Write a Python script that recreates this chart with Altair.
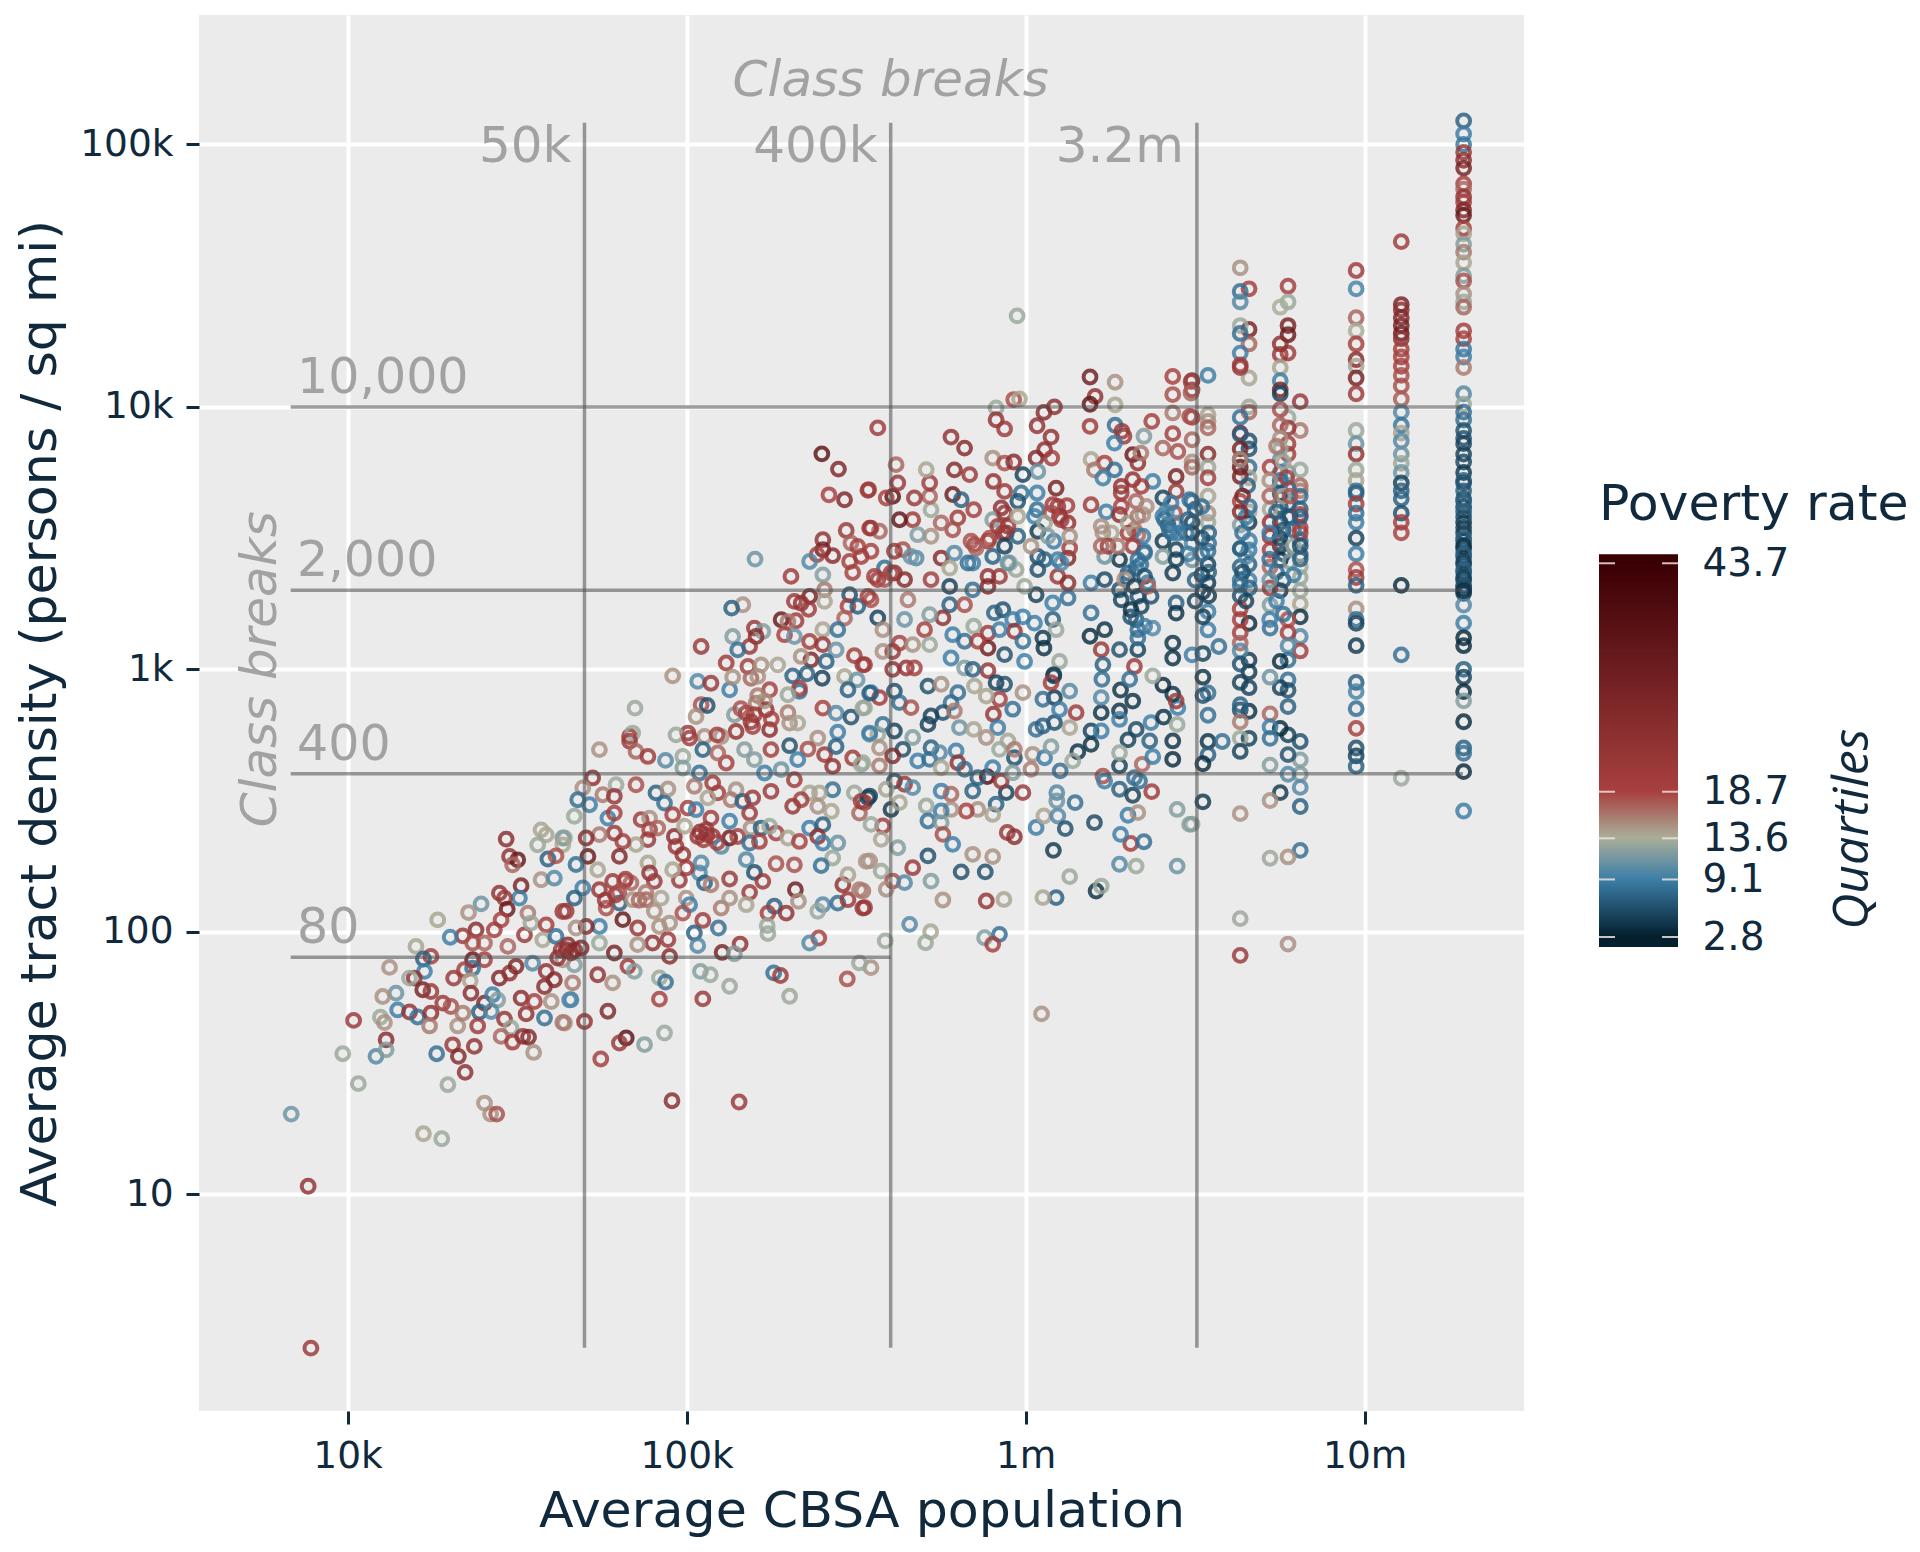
import altair as alt
import pandas as pd

# Each entry: (log10 average CBSA population, log10 average tract density, poverty rate)
col_7292 = [(5.09,7),(5.04,9),(5.0,8.5),(4.97,22),(4.94,25),(4.91,30),(4.85,19),(4.83,17),(4.80,23),(4.78,20),(4.75,28),(4.73,33),(4.68,19),(4.66,14),(4.62,12),(4.59,16),(4.55,14),(4.50,12),(4.48,18),(4.43,15),(4.40,13),(4.38,17),(4.29,20),(4.26,19),(4.22,8.5),(4.19,9),(4.15,16),(4.05,10),(4.01,13),(3.98,8),(3.95,8),(3.91,6),(3.88,6),(3.86,5),(3.82,5),(3.79,5.5),(3.75,4.5),(3.72,7),(3.68,7),(3.71,6),(3.65,6),(3.62,5),(3.60,7),(3.56,4),(3.52,5),(3.49,6),(3.46,5),(3.43,6),(3.40,5),(3.37,6),(3.34,5),(3.31,5),(3.29,4.5),(3.245,10),(3.176,9),(3.12,3.5),(3.09,3.5),(3.0,7),(2.97,5),(2.915,3.5),(2.88,12),(2.80,3.5),(2.70,7),(2.68,8),(2.61,3.5),(2.46,9)]
col_7108 = [(4.63,21),(4.39,30),(4.37,25),(4.34,28),(4.31,30),(4.28,32),(4.26,25),(4.22,20),(4.19,19),(4.155,19),(4.12,18),(4.08,18),(4.03,17.5),(3.98,10),(3.93,8.5),(3.90,14),(3.87,10),(3.82,11),(3.785,13),(3.75,11),(3.71,5),(3.68,7),(3.65,7),(3.595,6),(3.56,20),(3.52,19),(3.32,3.5),(3.055,8),(2.585,13)]
col_6975 = [(4.52,21),(4.45,9.5),(4.34,17),(4.29,13.5),(4.24,19),(4.18,26),(4.155,14),(4.11,30),(4.05,21),(3.91,13),(3.86,11),(3.82,24),(3.76,13),(3.72,14),(3.68,8),(3.67,7),(3.63,20),(3.595,8),(3.56,9),(3.50,5),(3.44,9),(3.38,18),(3.35,21),(3.32,7),(3.23,15),(3.19,8),(3.175,5),(3.09,4.5),(2.95,7),(2.915,9.5),(2.85,8),(2.775,19),(2.70,6),(2.67,5),(2.63,7)]
col_681 = [(4.02,22),(3.91,16),(3.76,13),(3.70,17),(3.68,16),(3.66,8),(3.61,7),(3.54,19),(3.49,8),(3.436,6),(3.39,13),(3.35,13),(3.25,14),(3.20,4),(3.125,10),(3.07,20),(2.725,6),(2.655,12),(2.60,12),(2.55,10),(2.477,7),(2.31,8)]
col_6774 = [(4.46,20),(4.40,13),(4.31,30),(4.275,33),(4.205,21),(3.96,13),(3.92,22),(3.86,21),(3.82,20),(3.75,12),(3.69,8),(3.63,7),(3.58,9),(3.19,18),(3.14,20),(3.09,10),(3.035,8),(2.96,8),(2.92,6),(2.858,7),(2.75,5),(2.675,6),(2.60,10),(1.953,15),(2.285,15)]
col_675 = [(4.38,13.5),(4.24,25),(4.20,22),(4.15,14),(4.10,9),(4.065,30),(4.05,5),(3.99,18),(3.93,17),(3.88,15),(3.84,13),(3.80,11),(3.75,9),(3.72,8),(3.67,6),(3.62,6),(3.56,6),(3.47,5),(3.417,3.5),(3.30,4.5),(3.03,3.5),(2.93,5),(2.775,3.5),(2.53,4.5)]
col_672 = [(3.77,19),(3.61,14),(3.56,24),(3.506,23),(3.455,20),(3.39,17),(3.31,21),(3.245,12),(3.157,8),(2.97,11),(2.83,17),(2.78,9),(2.737,8),(2.635,12),(2.50,15),(2.28,13)]
col_6659 = [(4.45,20),(4.295,30),(4.24,17),(4.11,14),(4.0,13),(3.98,17),(3.87,6),(3.84,6),(3.77,8),(3.73,14),(3.60,13),(3.56,4.5),(3.455,9),(3.40,7),(3.34,9),(3.175,3.5),(3.035,4.5),(2.99,4.5),(2.93,5),(2.84,4),(2.737,5)]
col_6633 = [(4.53,15),(4.44,8),(4.40,10),(4.31,13),(4.28,8),(4.205,9),(4.16,20),(4.15,22),(3.96,8),(3.90,28),(3.895,7),(3.84,30),(3.80,32),(3.77,33),(3.735,30),(3.80,15),(3.64,19),(3.55,12),(3.46,8),(3.39,7),(3.34,8),(3.28,6),(3.23,20),(3.19,20),(3.14,20),(3.10,17),(3.07,10),(3.02,6),(2.95,5),(2.845,6),(2.865,7),(2.80,16),(2.737,13),(2.687,5),(2.45,15),(2.05,13),(1.91,22)]
col_654 = [(4.12,9),(3.97,14),(3.945,15),(3.92,17),(3.82,26),(3.77,13),(3.73,20),(3.66,14),(3.595,15),(3.56,13),(3.45,8),(3.40,5),(3.33,4.5),(3.22,9),(3.15,9),(2.91,8),(2.825,8),(2.725,4),(2.675,7)]
col_652 = [(3.295,4.5),(3.20,5),(3.06,5),(2.97,4),(2.90,6),(2.64,3.5),(2.495,4.5)]
col_649 = [(4.10,30),(4.065,22),(3.96,20),(3.875,17),(3.79,15),(3.77,17),(3.64,8),(3.56,5),(3.48,10),(3.417,11),(3.055,9),(2.41,13)]
extra_upper = [(6.58,2.725,8),(6.57,3.087,8),(5.975,4.347,13),(6.047,1.687,15)]

cloud_upper_right = [(6.19,4.114,32),(6.264,4.094,15),(6.205,4.04,24),(6.19,4.01,35),(6.264,4.008,14),(6.19,3.926,21),(6.264,3.93,8),(6.284,3.907,22),(6.29,3.888,22),(6.262,3.862,9),(6.349,3.888,12),(6.372,3.945,20),(6.434,4.116,19),(6.434,4.047,18),(6.434,3.977,16),(6.434,3.898,20),(6.405,3.843,17),(6.449,3.83,18),(6.488,4.097,19),(6.488,4.053,17),(6.484,3.964,18),(6.444,3.735,30),(6.444,3.678,22),(6.316,3.818,33),(6.331,3.786,24),(6.34,3.824,16),(6.282,3.697,24),(6.282,3.672,22),(6.193,3.80,14),(6.233,3.786,19),(6.203,3.76,16),(6.262,3.76,8),(6.228,3.729,9),(6.193,3.627,21),(6.238,3.6,9),(6.277,3.589,26),(6.326,3.64,17),(6.375,3.716,9),(6.405,3.653,5),(6.439,3.596,18),(6.405,3.583,9),(6.405,3.488,4.5),(6.444,3.456,5),(6.434,3.367,4.5),(6.228,3.52,15),(6.277,3.418,4),(6.331,3.513,17),(6.346,3.589,15),(6.233,3.43,11),(6.326,3.386,9),(6.193,3.329,9),(6.233,3.342,5.5),(6.277,3.303,6),(6.37,3.278,6),(6.444,3.253,7),(6.444,3.214,4),(6.331,3.278,6),(6.193,3.215,8),(6.233,3.151,4),(6.19,3.126,3.5),(6.223,3.075,22),(6.277,3.075,6),(6.331,3.075,5),(6.331,3.151,8),(6.375,3.157,10),(6.434,3.10,4),(6.434,3.043,4),(6.321,3.011,21),(6.228,3.018,7),(6.42,3.55,7),(6.43,3.52,8),(6.415,3.60,10),(6.35,3.45,9),(6.34,3.40,8),(6.36,3.33,9),(6.30,3.35,7),(6.31,3.20,6)]
cloud_upper_mid = [(5.965,4.028,18),(5.982,4.03,14),(5.913,3.996,13),(5.913,3.951,24),(5.938,3.916,21),(6.034,3.928,24),(6.054,3.979,26),(6.085,4.0,25),(6.075,3.885,24),(6.056,3.837,25),(6.031,3.805,27),(6.077,3.805,20),(6.036,3.754,11),(6.09,3.69,30),(6.034,3.672,9),(6.034,3.608,8),(6.08,3.627,20),(6.122,3.624,20),(6.10,3.583,24),(6.125,3.558,24),(6.036,3.526,4.5),(6.083,3.488,9),(6.036,3.43,6),(6.036,3.38,6),(6.125,3.424,28),(6.13,3.462,20),(6.095,3.354,22),(6.125,3.329,25),(6.031,3.284,5),(6.125,3.272,8),(6.08,3.253,9),(6.08,3.19,7),(6.026,3.176,9),(6.09,3.151,13),(6.051,3.119,4.5),(6.054,3.081,4),(6.10,3.03,13),(6.083,2.98,5),(5.78,3.885,24),(5.82,3.843,27),(5.79,3.76,27),(5.835,3.742,22),(5.903,3.805,15),(5.905,3.716,24),(5.938,3.786,18),(5.965,3.79,26),(5.992,3.742,5),(5.938,3.678,22),(5.987,3.672,8),(5.977,3.64,6),(5.785,3.666,32),(5.81,3.646,7),(5.847,3.608,20),(5.80,3.577,21),(5.928,3.615,25),(5.903,3.57,12),(5.785,3.532,18),(5.751,3.558,17),(5.721,3.507,15),(5.721,3.608,13),(5.717,3.659,17),(5.717,3.71,21),(5.707,3.761,14),(5.672,3.653,22),(5.667,3.57,21),(5.628,3.57,35),(5.608,3.659,35),(5.618,3.78,17),(5.623,3.71,22),(5.589,3.653,19),(5.564,3.92,21),(5.537,3.685,20),(5.544,3.538,19),(5.569,3.526,17),(5.544,3.45,19)]
cloud_mid = [(5.682,3.513,12),(5.677,3.424,10),(5.751,3.424,27),(5.79,3.443,10),(5.776,3.386,14),(5.844,3.405,9),(5.849,3.475,20),(5.894,3.50,18),(5.903,3.43,7),(5.933,3.52,22),(5.943,3.52,24),(5.977,3.507,7),(5.938,3.469,5),(5.953,3.405,13),(5.972,3.38,13),(5.584,3.386,8),(5.564,3.342,20),(5.643,3.342,27),(5.613,3.367,25),(5.721,3.342,20),(5.776,3.316,5),(5.844,3.303,8),(5.889,3.354,24),(5.923,3.354,22),(5.889,3.316,28),(5.997,3.316,13),(5.544,3.265,18),(5.564,3.196,5),(5.653,3.265,16),(5.643,3.19,11),(5.776,3.246,7),(5.82,3.246,18),(5.756,3.196,25),(5.717,3.208,12),(5.702,3.151,19),(5.847,3.164,13),(5.933,3.227,6),(5.908,3.215,7),(5.962,3.19,9),(5.992,3.2,9),(5.889,3.138,21),(5.967,3.145,23),(5.923,3.151,9),(5.889,3.081,32),(5.785,3.132,9),(5.82,3.107,8),(5.717,3.094,13),(5.992,3.107,8),(5.938,3.056,6),(5.997,3.03,9),(5.78,3.043,9),(5.859,3.107,19),(5.889,2.995,23),(5.608,3.068,22),(5.628,3.10,19),(5.667,3.094,15),(5.579,3.068,15),(5.525,3.018,20),(5.608,3.0,24),(5.648,3.005,23),(5.672,3.005,19),(5.579,3.151,15),(5.82,3.005,12),(5.844,3.0,7)]
cloud_lower_a = [(5.613,2.917,6),(5.628,2.873,8),(5.544,2.911,9),(5.569,2.892,21),(5.525,2.854,13),(5.662,2.854,18),(5.712,2.936,6),(5.751,2.943,15),(5.8,2.911,8),(5.78,2.873,8),(5.756,2.835,6),(5.721,2.822,5),(5.712,2.79,5),(5.79,2.841,16),(5.849,2.936,14),(5.913,2.949,5),(5.938,2.943,6),(5.992,2.911,15),(5.923,2.886,20),(5.962,2.848,8),(5.905,2.829,23),(5.884,2.898,14),(5.805,2.778,11),(5.847,2.771,14),(5.918,2.778,9),(5.884,2.74,15),(5.948,2.727,14),(5.923,2.695,13),(5.613,2.765,5),(5.579,2.79,8),(5.54,2.752,11),(5.564,2.752,13),(5.569,2.701,15),(5.667,2.74,12),(5.638,2.695,6),(5.608,2.67,27),(5.721,2.701,7),(5.682,2.651,9),(5.717,2.657,8),(5.746,2.682,10),(5.795,2.689,9),(5.8,2.644,24),(5.82,2.619,8),(5.751,2.625,14),(5.569,2.632,16),(5.52,2.644,13),(5.613,2.574,6),(5.643,2.562,22),(5.667,2.549,10),(5.589,2.543,14),(5.54,2.517,5),(5.525,2.492,23),(5.603,2.466,4.5),(5.628,2.492,14),(5.887,2.591,38),(5.859,2.587,7),(5.903,2.625,9),(5.844,2.536,7),(5.751,2.536,9),(5.78,2.524,17),(5.943,2.53,5),(5.928,2.574,22),(5.967,2.663,6),(5.967,2.695,16),(6.021,2.676,15),(6.016,2.619,16),(5.962,2.606,12),(5.992,2.53,22),(5.913,2.486,7),(5.903,2.447,14),(5.859,2.466,15),(5.825,2.46,19),(5.78,2.466,15),(5.751,2.46,9),(5.707,2.479,13),(5.712,2.422,8),(5.751,2.416,12),(5.579,2.403,20),(5.544,2.409,13),(5.574,2.352,14),(5.623,2.32,12),(5.756,2.371,18),(5.785,2.333,9),(5.712,2.289,6),(5.667,2.244,22),(5.54,2.27,15),(5.574,2.231,13),(5.608,2.193,18),(5.643,2.187,10),(5.589,2.162,15),(5.52,2.155,16),(5.525,2.092,22),(5.721,2.193,12),(5.81,2.228,6),(5.844,2.295,15),(5.903,2.286,15),(5.881,2.228,6),(5.756,2.121,15),(5.884,2.117,23),(5.936,2.123,14),(5.658,2.028,10),(5.72,2.0,14),(5.705,1.958,13),(5.879,1.977,12),(5.923,1.99,8),(5.903,1.952,19),(5.586,1.965,13),(5.544,1.863,15),(5.946,2.378,22),(5.967,2.362,25)]
cloud_lower_b = [(6.031,2.397,9),(6.054,2.441,14),(6.095,2.441,10),(6.117,2.393,6),(6.203,2.416,5.5),(6.146,2.492,8),(6.092,2.53,10),(6.092,2.498,11),(6.102,2.613,8),(6.056,2.663,9),(6.075,2.705,12),(6.082,2.31,4.5),(6.13,2.21,13),(6.09,2.13,7),(6.051,2.13,14),(6.208,2.155,4),(6.223,2.174,13),(6.277,2.257,10),(6.326,2.25,13),(6.447,2.25,11),(6.31,2.336,20),(6.349,2.343,8),(6.28,2.371,9),(6.302,2.444,9),(6.331,2.454,15),(6.447,2.466,12),(6.484,2.409,12),(6.277,2.543,7),(6.316,2.52,5),(6.372,2.534,21),(6.228,2.593,18),(6.233,2.574,9),(6.277,2.632,5),(6.336,2.574,8),(6.321,2.587,8),(6.344,2.638,17),(6.375,2.667,9),(6.302,2.731,5),(6.277,2.682,13),(6.193,2.714,4),(6.154,2.686,4),(6.139,2.651,13),(6.193,2.765,5),(6.223,2.765,9),(6.326,2.771,5.5),(6.366,2.727,7),(6.37,2.797,9),(6.407,2.818,4),(6.434,2.727,4),(6.434,2.657,3.5),(6.447,2.79,13),(6.449,2.854,9),(6.434,2.905,4),(6.405,2.94,3.5),(6.444,2.879,22),(6.316,2.879,4),(6.277,2.841,4),(6.28,2.921,4),(6.223,2.835,4),(6.223,2.892,10),(6.225,2.962,8),(6.277,2.809,9),(6.149,2.835,21),(6.13,2.778,14),(6.085,2.797,6),(6.031,2.771,8),(6.051,2.784,7),(6.085,2.892,4.5),(6.083,2.975,5),(6.10,2.847,9),(6.13,2.917,10),(6.051,2.886,8),(6.075,2.949,21),(6.307,2.962,8),(6.375,2.975,13)]
cloud_left_top = [(5.399,3.821,36),(5.448,3.763,28),(5.42,3.665,19),(5.466,3.646,28),(5.535,3.682,21),(5.471,3.529,22),(5.54,3.538,22),(5.402,3.494,24),(5.402,3.456,30),(5.431,3.433,26),(5.385,3.437,20),(5.363,3.411,10),(5.485,3.481,17),(5.505,3.468,19),(5.515,3.43,20),(5.481,3.411,20),(5.49,3.369,19),(5.402,3.36,12),(5.308,3.354,21),(5.202,3.42,11),(5.407,3.303,16),(5.407,3.259,14),(5.363,3.278,30),(5.318,3.259,22),(5.338,3.252,24),(5.36,3.229,21),(5.481,3.284,6),(5.476,3.24,19),(5.505,3.24,7),(5.466,3.195,17),(5.535,3.278,20),(5.166,3.246,15),(5.133,3.233,7),(5.279,3.189,34),(5.323,3.185,21),(5.299,3.182,16),(5.289,3.132,19),(5.318,3.125,11),(5.2,3.157,22),(5.225,3.144,12),(5.205,3.125,26),(5.136,3.125,12),(5.186,3.087,22),(5.151,3.074,8),(5.043,3.087,22),(5.363,3.106,20),(5.402,3.151,14),(5.402,3.094,23),(5.446,3.151,8),(5.441,3.074,11),(5.367,3.036,28),(5.338,3.049,15),(5.412,3.03,7),(5.495,3.052,20),(5.52,3.017,21),(5.117,3.024,21),(5.181,3.011,20),(5.22,3.017,15),(5.269,3.017,14),(5.313,2.975,7),(5.355,2.983,7),(5.40,2.966,5),(5.466,2.973,14),(5.503,2.96,11),(5.476,2.922,7),(4.959,2.975,15),(5.033,2.954,10),(5.072,2.947,22),(5.127,2.922,9),(5.136,2.97,15),(5.19,2.966,17),(5.21,2.973,15),(5.245,2.922,19),(5.333,2.916,8),(5.333,2.928,20),(5.299,2.903,13),(5.54,2.909,7),(5.043,2.865,18),(5.061,2.862,6),(5.028,2.82,15),(4.848,2.852,13),(5.141,2.827,12),(5.205,2.871,16),(5.176,2.833,20),(5.235,2.846,24),(5.20,2.827,20),(5.299,2.835,16),(5.304,2.795,15),(5.328,2.795,14),(5.402,2.852,19),(5.441,2.833,10),(5.485,2.818,6),(5.52,2.852,13),(5.195,2.782,20),(5.245,2.77,26),(5.146,2.763,24),(5.446,2.76,9),(5.387,2.738,15),(5.004,2.757,22),(4.969,2.75,13),(5.053,2.744,15),(5.102,2.744,15),(4.832,2.744,22),(4.841,2.757,13),(5.54,2.757,9)]
cloud_left_mid = [(4.743,2.694,15),(4.832,2.726,21),(4.851,2.687,17),(4.886,2.668,21),(4.938,2.653,10),(4.989,2.668,13),(4.989,2.624,12),(5.009,2.738,21),(5.048,2.694,7),(5.117,2.643,20),(5.038,2.605,8),(5.092,2.681,17),(5.171,2.694,12),(5.2,2.656,12),(5.249,2.694,20),(5.304,2.709,6),(5.358,2.696,18),(5.328,2.656,9),(5.407,2.675,21),(5.431,2.63,24),(5.441,2.706,7),(5.49,2.662,21),(5.515,2.637,13),(5.23,2.605,9),(5.279,2.618,11),(5.318,2.579,21),(5.249,2.535,22),(5.431,2.541,8),(5.495,2.529,13),(5.363,2.529,14),(5.392,2.529,14),(5.313,2.478,23),(5.338,2.503,20),(5.387,2.478,15),(5.427,2.459,14),(5.51,2.452,17),(5.535,2.51,5),(5.515,2.497,21),(4.723,2.586,24),(4.694,2.548,15),(4.792,2.56,13),(4.851,2.56,18),(4.679,2.503,8),(4.714,2.484,9),(4.753,2.522,16),(4.787,2.516,23),(4.91,2.529,7),(4.945,2.544,15),(4.935,2.49,8),(5.004,2.471,20),(5.028,2.465,9),(5.023,2.554,16),(5.077,2.567,21),(5.092,2.529,20),(5.146,2.541,15),(5.131,2.503,16),(5.063,2.51,14),(5.166,2.497,7),(5.195,2.51,22),(5.186,2.452,22),(5.127,2.421,9),(5.072,2.433,21),(4.669,2.44,13),(4.768,2.433,9),(4.787,2.452,20),(4.866,2.427,21),(4.959,2.446,20),(4.891,2.433,15),(4.891,2.389,19),(4.915,2.395,17),(4.886,2.351,22),(4.851,2.332,14),(4.787,2.376,22),(4.812,2.344,20),(4.743,2.37,16),(4.704,2.357,26),(4.64,2.357,13),(4.964,2.363,26),(4.994,2.402,14),(4.969,2.325,22),(4.989,2.294,24),(5.033,2.363,22),(5.058,2.389,22),(5.077,2.363,23),(5.102,2.325,10),(5.127,2.357,32),(5.151,2.363,20),(5.19,2.395,15),(5.22,2.395,7),(5.186,2.338,8),(5.215,2.344,20),(5.264,2.376,20),(5.245,2.402,13),(5.299,2.357,14),(5.333,2.344,19),(5.363,2.395,9),(5.402,2.408,7),(5.387,2.363,24),(5.402,2.338,9),(5.446,2.338,11),(5.431,2.281,13),(5.397,2.252,8),(5.53,2.268,15)]
cloud_left_low = [(5.176,2.275,10),(5.264,2.259,18),(5.318,2.255,18),(5.2,2.226,6),(5.225,2.192,22),(5.127,2.201,22),(5.043,2.262,10),(5.038,2.224,10),(5.053,2.186,7),(5.072,2.179,16),(4.999,2.243,21),(4.979,2.196,22),(4.959,2.236,14),(4.709,2.287,33),(4.802,2.287,28),(4.738,2.236,14),(4.674,2.256,8),(4.886,2.262,14),(4.891,2.224,24),(4.905,2.192,22),(4.836,2.186,17),(4.782,2.192,22),(4.817,2.192,17),(4.743,2.16,23),(4.694,2.167,9),(4.669,2.128,7),(4.802,2.109,7),(4.841,2.122,15),(4.763,2.09,18),(4.881,2.122,17),(4.925,2.128,14),(4.999,2.128,15),(5.009,2.103,9),(5.102,2.09,16),(5.127,2.128,15),(5.186,2.15,22),(5.176,2.103,14),(5.321,2.16,32),(5.33,2.116,15),(5.259,2.097,7),(5.24,2.071,20),(5.294,2.071,24),(5.402,2.103,10),(5.387,2.078,13),(5.446,2.109,8),(5.476,2.122,22),(5.461,2.179,24),(5.476,2.217,14),(5.51,2.16,16),(5.52,2.09,22),(4.645,2.078,22),(4.989,2.071,18),(4.905,2.078,15),(4.95,2.033,15),(5.048,2.043,21),(5.094,2.014,8),(5.023,1.995,7),(5.033,1.947,10),(4.856,2.014,23),(4.812,2.046,34),(4.92,2.02,15),(4.743,2.02,9),(4.704,2.02,27),(4.674,2.014,15),(5.158,1.953,24),(5.105,1.921,30),(5.141,1.916,12),(5.238,2.023,13),(5.24,1.993,13),(5.39,1.976,19),(5.363,1.957,10),(4.9,1.957,24),(4.945,1.97,22),(4.95,1.906,26),(4.856,1.951,15),(4.787,1.919,30),(4.743,1.957,13),(4.689,1.938,28),(4.645,1.932,27),(4.827,1.868,21),(4.846,1.849,12),(4.738,1.836,24),(4.782,1.805,15),(4.669,1.874,12),(4.664,1.805,16),(4.92,1.824,13),(4.938,1.808,8),(4.92,1.743,19),(5.041,1.849,12),(5.07,1.836,13),(5.048,1.744,22),(5.127,1.792,13),(5.257,1.843,8),(5.277,1.833,22),(5.304,1.754,13),(5.474,1.82,18),(5.51,1.881,13),(4.659,1.741,9),(4.768,1.697,28),(4.699,1.658,24),(4.64,1.652,15),(4.822,1.595,36),(4.802,1.576,22),(4.935,1.614,13),(4.876,1.57,12)]
cloud_far_left = [(4.468,2.353,26),(4.478,2.287,24),(4.502,2.274,34),(4.487,2.255,17),(4.571,2.388,14),(4.586,2.369,14),(4.561,2.331,13),(4.635,2.357,12),(4.635,2.331,14),(4.591,2.277,7),(4.615,2.289,18),(4.512,2.175,30),(4.507,2.128,9),(4.571,2.198,15),(4.61,2.204,10),(4.448,2.147,24),(4.463,2.128,22),(4.471,2.086,33),(4.394,2.106,11),(4.357,2.073,15),(4.532,2.071,16),(4.453,2.045,19),(4.433,2.007,20),(4.266,2.045,14),(4.379,2.007,26),(4.34,1.984,22),(4.303,1.979,9),(4.404,1.957,17),(4.369,1.957,18),(4.202,1.944,14),(4.246,1.906,20),(4.224,1.896,7),(4.124,1.864,15),(4.227,1.849,9),(4.197,1.823,24),(4.183,1.823,13),(4.369,1.893,34),(4.404,1.893,20),(4.369,1.861,8),(4.345,1.855,20),(4.313,1.823,22),(4.362,1.813,14),(4.448,1.823,28),(4.478,1.842,24),(4.497,1.868,28),(4.473,1.944,17),(4.522,1.988,22),(4.541,2.033,13),(4.586,2.026,20),(4.635,2.077,22),(4.576,1.969,14),(4.615,1.982,8),(4.546,1.88,10),(4.586,1.849,24),(4.61,1.817,27),(4.581,1.791,26),(4.635,1.893,15),(4.364,1.766,26),(4.404,1.728,28),(4.428,1.76,9),(4.443,1.74,12),(4.389,1.694,7),(4.424,1.696,10),(4.222,1.779,30),(4.246,1.772,22),(4.281,1.728,22),(4.305,1.715,18),(4.143,1.766,11),(4.104,1.753,15),(4.148,1.702,9),(4.183,1.694,24),(4.207,1.675,8),(4.246,1.69,24),(4.242,1.641,16),(4.325,1.641,15),(4.34,1.69,16),(4.384,1.641,21),(4.463,1.667,23),(4.512,1.747,26),(4.551,1.734,19),(4.601,1.734,15),(4.527,1.687,24),(4.581,1.671,8),(4.635,1.654,16),(4.655,1.74,10),(4.482,1.633,13),(4.018,1.662,22),(4.097,1.674,13),(4.109,1.654,15),(4.114,1.588,26),(4.084,1.525,10),(4.114,1.55,12),(3.986,1.535,13),(4.263,1.535,8),(4.31,1.569,22),(4.327,1.525,27),(4.374,1.563,24),(4.347,1.464,25),(4.453,1.601,17),(4.487,1.579,20),(4.517,1.601,24),(4.534,1.598,28),(4.549,1.54,15),(3.834,1.305,11),(3.884,1.03,24),(3.892,0.413,22),(4.032,1.421,13),(4.224,1.23,14),(4.278,1.211,13),(4.404,1.347,15),(4.422,1.305,15),(4.44,1.305,18),(4.296,1.417,13),(4.957,1.356,26),(5.155,1.351,22),(4.747,1.515,20)]
dense_right = [(6.655,3.70,7),(6.64,3.66,30),(6.66,3.62,8),(6.65,3.58,9),(6.64,3.52,8),(6.66,3.49,9),(6.65,3.43,10),(6.64,3.37,6),(6.66,3.31,7),(6.65,3.26,5),(6.633,3.60,27),(6.633,3.46,7),(6.633,3.32,8),(6.75,3.70,9),(6.76,3.66,14),(6.74,3.60,7),(6.76,3.53,6),(6.75,3.50,5),(6.76,3.44,6),(6.74,3.37,8),(6.76,3.34,6),(6.74,3.26,9),(6.76,3.21,8),(6.74,3.85,16),(6.76,3.79,14),(6.77,3.73,20),(6.78,3.66,18),(6.78,3.58,6),(6.79,3.53,8),(6.79,3.47,13),(6.78,3.41,12),(6.79,3.36,9),(6.81,3.59,20),(6.81,3.58,7),(6.81,3.52,20),(6.81,3.47,6),(6.81,3.42,7),(6.81,3.30,13),(6.72,3.72,15),(6.72,3.66,17),(6.72,3.52,9),(6.72,3.42,8),(6.72,3.34,11),(6.72,3.19,9),(6.54,3.52,7),(6.54,3.48,8),(6.54,3.37,7),(6.54,3.28,4.5),(6.52,3.62,8),(6.52,3.50,6),(6.52,3.44,8),(6.52,3.36,5),(6.50,3.61,7),(6.49,3.52,5),(6.48,3.44,9),(6.50,3.34,7),(6.50,3.26,5),(7.292,3.64,7),(7.292,3.58,6),(7.292,3.54,5),(7.292,3.50,7),(7.292,3.47,4),(7.292,3.44,7),(7.292,3.41,5),(7.292,3.38,7),(7.292,3.35,5),(7.292,3.32,6),(7.292,3.30,4)]
dense_mid = [(6.321,3.532,16),(6.346,3.507,9),(6.316,3.469,20),(6.351,3.443,8),(6.331,3.418,8),(6.302,3.367,7),(6.351,3.354,6),(6.292,3.342,15),(6.321,3.316,5),(6.361,3.316,17),(6.282,3.265,5),(6.341,3.24,5),(6.311,3.227,4),(6.326,3.189,7),(6.351,3.164,9),(6.331,3.119,8),(6.41,3.57,8),(6.429,3.634,9),(6.439,3.558,10),(6.424,3.532,8),(6.449,3.519,9),(6.479,3.57,7),(6.484,3.646,8),(6.405,3.43,12),(6.444,3.418,5),(6.474,3.519,8),(6.253,3.52,14),(6.223,3.545,15),(6.243,3.469,21),(6.272,3.469,16),(6.302,3.519,20),(6.223,3.469,17),(6.282,3.621,19),(6.302,3.558,14),(6.356,3.621,15),(6.331,3.583,16),(6.316,3.723,24),(6.341,3.697,20),(6.095,3.621,22),(6.105,3.57,21),(6.075,3.596,18),(6.13,3.507,15),(6.026,3.583,9),(6.056,3.558,13),(6.066,3.507,12),(6.016,3.469,15),(6.056,3.418,7),(6.105,3.405,10),(6.095,3.418,9),(5.938,3.596,23),(5.948,3.545,22),(5.918,3.545,21),(5.889,3.488,20),(5.854,3.462,17),(5.839,3.488,18),(5.83,3.405,8),(5.977,3.583,14),(5.948,3.405,11),(5.638,3.456,18),(5.613,3.45,22),(5.662,3.43,11),(5.603,3.367,20),(5.584,3.342,18),(5.554,3.354,20)]
dense_left = [(5.21,2.90,16),(5.23,2.88,15),(5.16,2.85,18),(5.19,2.80,22),(5.25,2.81,19),(5.09,2.75,20),(4.82,2.20,20),(4.79,2.14,22),(4.76,2.12,22),(4.80,2.15,18),(4.86,2.12,17),(4.88,2.15,16),(5.06,2.37,22),(5.05,2.35,21),(5.09,2.34,20),(5.04,2.38,24),(4.66,1.92,24),(4.65,1.95,26),(4.67,1.93,27),(4.63,1.93,22),(4.62,1.90,25)]

columns = [(7.292,col_7292),(7.108,col_7108),(6.975,col_6975),(6.81,col_681),(6.774,col_6774),
           (6.751,col_675),(6.721,col_672),(6.659,col_6659),(6.633,col_6633),(6.538,col_654),(6.523,col_652),(6.491,col_649)]
clouds = [extra_upper,cloud_upper_right,cloud_upper_mid,cloud_mid,cloud_lower_a,cloud_lower_b,
          cloud_left_top,cloud_left_mid,cloud_left_low,cloud_far_left,dense_right,dense_mid,dense_left]

rows = []
for lx, col in columns:
    rows += [(lx, ly, p) for ly, p in col]
for c in clouds:
    rows += c
points = pd.DataFrame(rows, columns=["lx", "ly", "poverty"])
points["pop"] = 10 ** points["lx"]
points["density"] = 10 ** points["ly"]

quartile_values = [2.8, 9.1, 13.6, 18.7, 43.7]
quartile_colors = ["#04202f", "#3d7fa8", "#aaae99", "#a84040", "#3a0004"]
x_breaks = [50000, 400000, 3200000]
x_break_labels = ["50k", "400k", "3.2m"]
y_breaks = [80, 400, 2000, 10000]
y_break_labels = ["80", "400", "2,000", "10,000"]
y_break_ends = [400000, 19500000, 19500000, 19500000]

FONT = "DejaVu Sans"
NAVY = "#10293d"
GRAY = "#a2a2a2"

x_scale = alt.Scale(type="log", domain=[10 ** 3.562, 10 ** 7.47], nice=False)
y_scale = alt.Scale(type="log", domain=[10 ** 0.1735, 10 ** 5.4935], nice=False)
color_scale = alt.Scale(domain=quartile_values, range=quartile_colors, clamp=True, interpolate="rgb")

x_axis = alt.Axis(
    title="Average CBSA population", values=[1e4, 1e5, 1e6, 1e7],
    labelExpr="datum.value>=1e7?'10m':datum.value>=1e6?'1m':datum.value>=1e5?'100k':'10k'",
    domain=False, grid=True, gridColor="white", gridWidth=4,
    tickColor=NAVY, tickWidth=3, tickSize=13, labelPadding=13,
    labelFontSize=37.5, labelColor=NAVY, labelFont=FONT, labelFontWeight="normal",
    titleFontSize=50.6, titleColor=NAVY, titleFont=FONT, titleFontWeight="normal", titlePadding=12,
)
y_axis = alt.Axis(
    title="Average tract density (persons / sq mi)", values=[10, 100, 1000, 10000, 100000],
    labelExpr="datum.value>=1e5?'100k':datum.value>=1e4?'10k':datum.value>=1e3?'1k':datum.value>=100?'100':'10'",
    domain=False, grid=True, gridColor="white", gridWidth=4,
    tickColor=NAVY, tickWidth=3, tickSize=13, labelPadding=13,
    labelFontSize=37.5, labelColor=NAVY, labelFont=FONT, labelFontWeight="normal",
    titleFontSize=50.6, titleColor=NAVY, titleFont=FONT, titleFontWeight="normal", titlePadding=13,
)

def X(f):
    return alt.X(f, scale=x_scale, axis=x_axis)

def Y(f):
    return alt.Y(f, scale=y_scale, axis=y_axis)

pts = alt.Chart(points).mark_point(shape="circle", filled=False, size=165, strokeWidth=4, opacity=0.82).encode(
    x=X("pop:Q"), y=Y("density:Q"),
    color=alt.Color("poverty:Q", scale=color_scale, legend=None),
)

vl = pd.DataFrame({"x": x_breaks, "label": x_break_labels, "y": [2.6] * 3, "y2": [121000] * 3, "ly": [98000] * 3})
hl = pd.DataFrame({"y": y_breaks, "label": y_break_labels, "x": [6800] * 4, "x2": y_break_ends, "lx": [7100] * 4})
rule_style = dict(color="#4d4d4d", opacity=0.55, strokeWidth=3.5)

v_rules = alt.Chart(vl).mark_rule(**rule_style).encode(x=X("x:Q"), y=Y("y:Q"), y2="y2:Q")
h_rules = alt.Chart(hl).mark_rule(**rule_style).encode(y=Y("y:Q"), x=X("x:Q"), x2="x2:Q")
v_text = alt.Chart(vl).mark_text(font=FONT, fontSize=50, color=GRAY, align="right", baseline="middle", dx=-13).encode(
    x=X("x:Q"), y=Y("ly:Q"), text="label:N")
h_text = alt.Chart(hl).mark_text(font=FONT, fontSize=49, color=GRAY, align="left", baseline="middle", dy=-29).encode(
    x=X("lx:Q"), y=Y("y:Q"), text="label:N")
top_title = alt.Chart(pd.DataFrame({"x": [400000], "y": [175000], "t": ["Class breaks"]})).mark_text(
    font=FONT, fontSize=50, fontStyle="italic", color=GRAY, baseline="middle").encode(
    x=X("x:Q"), y=Y("y:Q"), text="t:N")
side_title = alt.Chart(pd.DataFrame({"x": [5550], "y": [1000], "t": ["Class breaks"]})).mark_text(
    font=FONT, fontSize=50, fontStyle="italic", color=GRAY, baseline="middle", angle=270).encode(
    x=X("x:Q"), y=Y("y:Q"), text="t:N")

main = alt.layer(pts, v_rules, h_rules, v_text, h_text, top_title, side_title).properties(
    width=1325, height=1396, view=alt.ViewBackground(fill="#ebebeb", stroke=None))

# Colour bar panel
bar_y_scale = alt.Scale(domain=[-49.07, 103.7], nice=False)
bar_levels = pd.DataFrame({"level": [1.7 + 0.1 * i for i in range(426)]})
bar_levels["top"] = bar_levels["level"] + 0.5
bar_axis = alt.Axis(orient="right", values=quartile_values, format=".1f", title=None, domain=False, grid=False,
                    ticks=False, labelPadding=24, labelFontSize=39, labelColor=NAVY, labelFont=FONT,
                    labelFontWeight="normal")

def BY(f):
    return alt.Y(f, scale=bar_y_scale, axis=bar_axis)

bar = alt.Chart(bar_levels).mark_rect(opacity=1).encode(
    x=alt.value(0), x2=alt.value(79),
    y=BY("level:Q"), y2="top:Q",
    color=alt.Color("level:Q", scale=color_scale, legend=None))
tick_df = pd.DataFrame({"q": quartile_values})
tick_style = dict(color="#efe0d6", opacity=0.85, strokeWidth=2)
tick_l = alt.Chart(tick_df).mark_rule(**tick_style).encode(y=BY("q:Q"), x=alt.value(0), x2=alt.value(16))
tick_r = alt.Chart(tick_df).mark_rule(**tick_style).encode(y=BY("q:Q"), x=alt.value(63), x2=alt.value(79))
bar_title = alt.Chart(pd.DataFrame({"y": [50.05], "t": ["Poverty rate"]})).mark_text(
    font=FONT, fontSize=50.5, color=NAVY, align="left", baseline="middle").encode(
    x=alt.value(0), y=BY("y:Q"), text="t:N")
bar_sub = alt.Chart(pd.DataFrame({"y": [14.6], "t": ["Quartiles"]})).mark_text(
    font="Open Sans", fontSize=50, fontStyle="italic", color=NAVY, baseline="middle", angle=270).encode(
    x=alt.value(254), y=BY("y:Q"), text="t:N")
panel = alt.layer(bar, tick_l, tick_r, bar_title, bar_sub).properties(
    width=79, height=1396, view=alt.ViewBackground(stroke=None))

chart = alt.hconcat(main, panel, spacing=74).properties(
    padding={"left": 7, "top": 7, "right": 0, "bottom": 6}, background="white"
).configure_view(stroke=None)

chart.save("out.html", embed_options={"renderer": "svg", "actions": False})
